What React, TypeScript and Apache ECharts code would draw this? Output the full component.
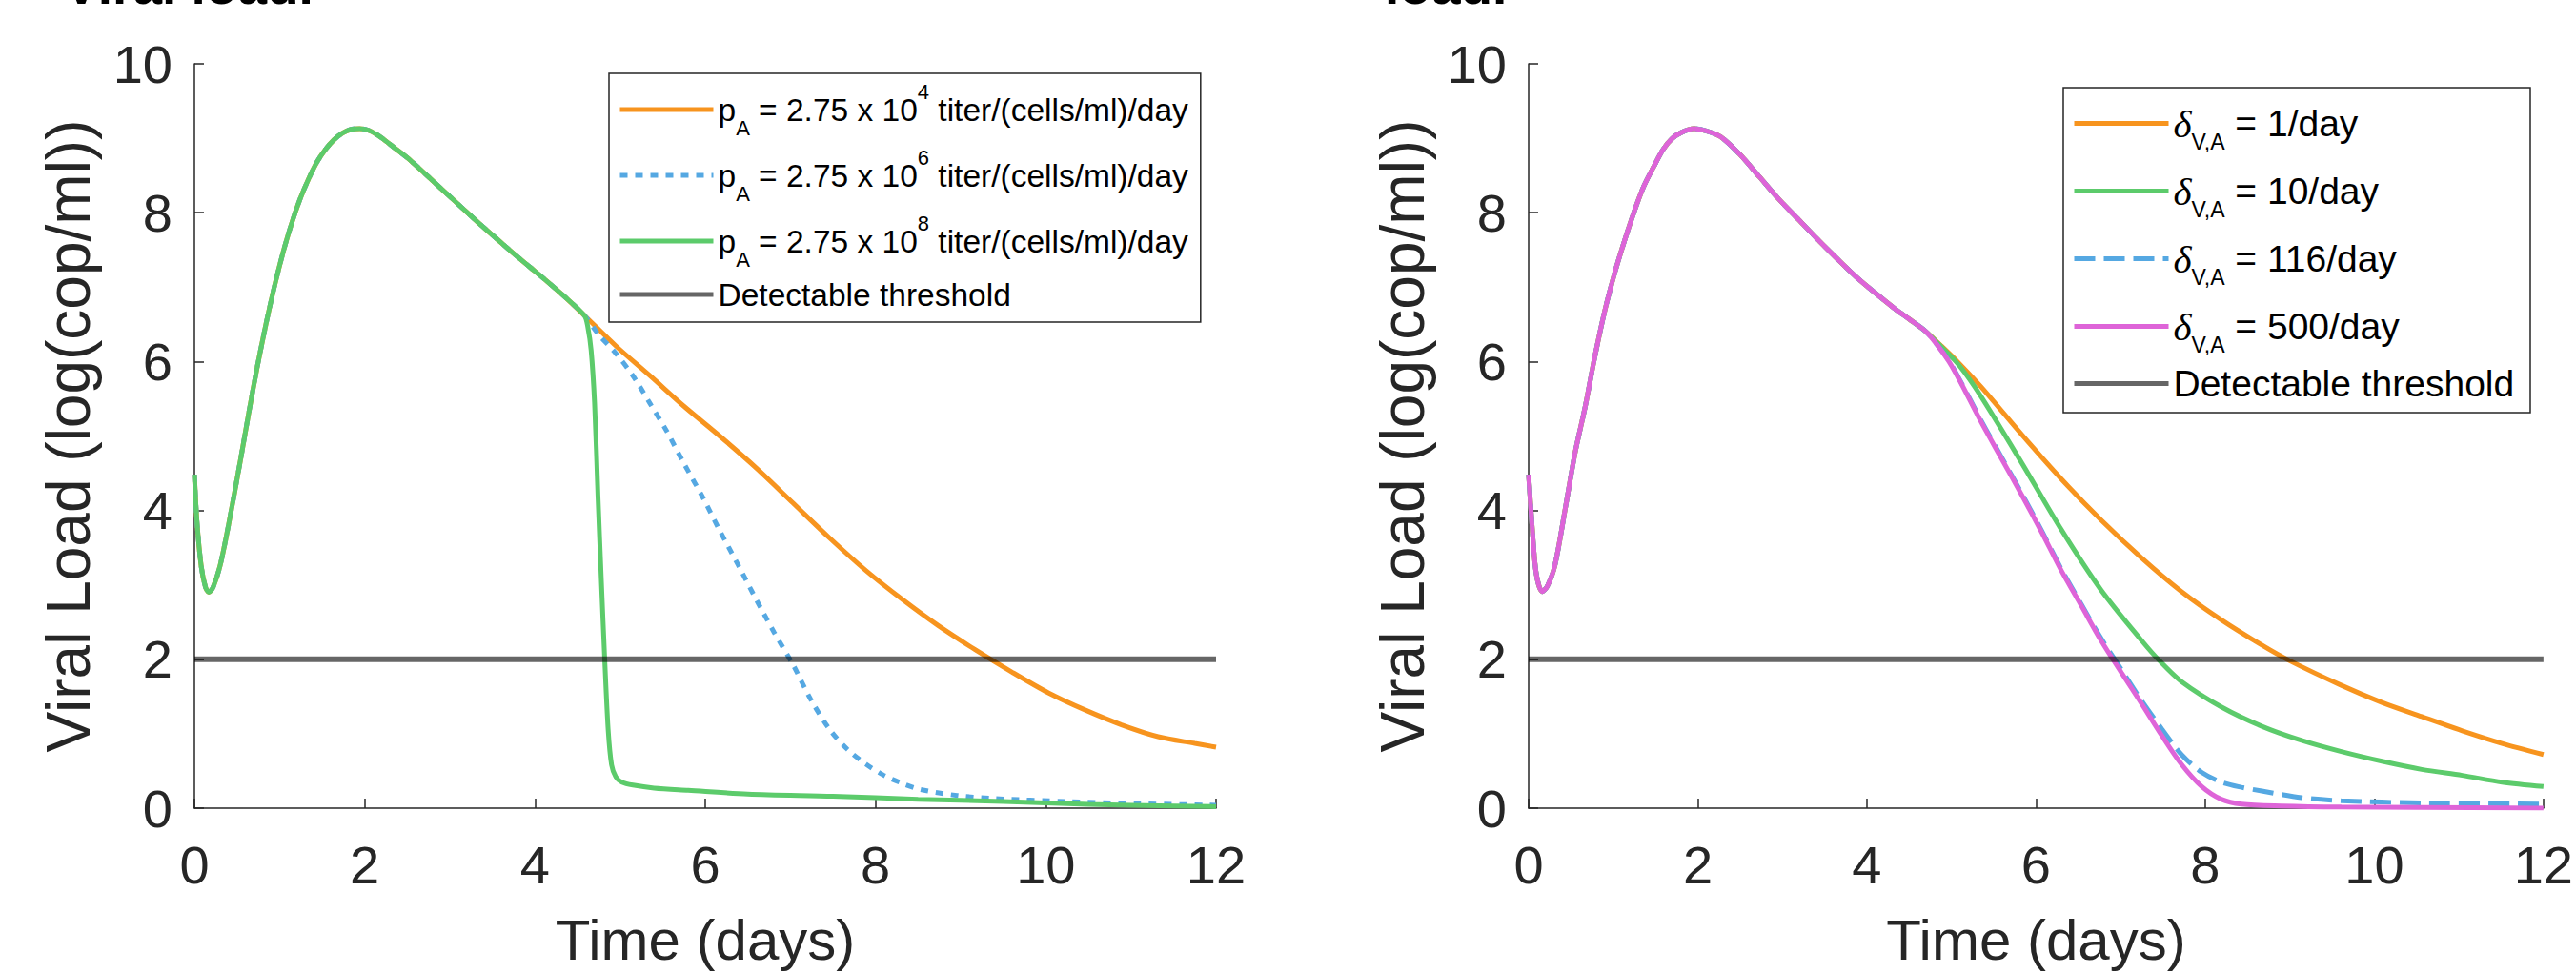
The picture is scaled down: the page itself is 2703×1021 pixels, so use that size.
import React, { useEffect, useRef } from 'react';
import * as echarts from 'echarts';

const FONT = "'Liberation Sans', Arial, Helvetica, sans-serif";
const SERIF = "'Liberation Serif', 'DejaVu Serif', serif";

// ---------- Left panel: shared early phase ----------
const leftBaseT = [0, 0.03, 0.08, 0.13, 0.17, 0.22, 0.30, 0.40, 0.54, 0.64, 0.74, 0.84, 0.94, 1.04, 1.14, 1.24, 1.34, 1.44, 1.54, 1.64, 1.74, 1.84, 1.94, 2.04, 2.14, 2.24, 2.34, 2.54, 2.74, 2.94, 3.14, 3.34, 3.54, 3.74, 3.94, 4.14, 4.34, 4.58];
const leftBaseV = [4.48, 3.85, 3.25, 2.97, 2.90, 2.97, 3.25, 3.80, 4.67, 5.32, 5.94, 6.50, 7.01, 7.46, 7.85, 8.18, 8.45, 8.68, 8.85, 8.98, 9.07, 9.12, 9.13, 9.11, 9.05, 8.97, 8.88, 8.70, 8.49, 8.28, 8.07, 7.86, 7.66, 7.46, 7.27, 7.08, 6.88, 6.62];

// pA = 2.75e4
const leftOrangeT = [4.58, 4.95, 5.35, 5.75, 6.17, 6.60, 7.03, 7.46, 7.89, 8.32, 8.74, 9.17, 9.60, 10.03, 10.46, 10.89, 11.32, 11.75, 12];
const leftOrangeV = [6.62, 6.21, 5.81, 5.40, 5.00, 4.57, 4.10, 3.63, 3.19, 2.80, 2.45, 2.13, 1.83, 1.55, 1.32, 1.12, 0.96, 0.87, 0.82];
// pA = 2.75e6
const leftBlueT = [4.58, 4.75, 4.95, 5.15, 5.35, 5.55, 5.75, 5.96, 6.17, 6.39, 6.60, 6.81, 7.03, 7.24, 7.46, 7.67, 7.89, 8.10, 8.32, 8.53, 8.96, 9.39, 10.24, 11.10, 12];
const leftBlueV = [6.62, 6.36, 6.11, 5.81, 5.44, 5.06, 4.63, 4.20, 3.73, 3.26, 2.80, 2.36, 1.93, 1.46, 1.06, 0.79, 0.59, 0.44, 0.33, 0.25, 0.17, 0.13, 0.09, 0.06, 0.04];
// pA = 2.75e8
const leftGreenT = [4.58, 4.62, 4.66, 4.70, 4.74, 4.78, 4.82, 4.86, 4.90, 4.95, 5.02, 5.15, 5.40, 5.80, 6.50, 7.50, 8.50, 9.50, 10.50, 11.50, 12];
const leftGreenV = [6.62, 6.47, 6.15, 5.45, 4.20, 3.05, 1.98, 1.05, 0.58, 0.42, 0.35, 0.31, 0.27, 0.24, 0.19, 0.16, 0.12, 0.09, 0.05, 0.03, 0.02];

// ---------- Right panel: shared early phase ----------
const rightBaseT = [0, 0.04, 0.09, 0.16, 0.22, 0.31, 0.44, 0.55, 0.67, 0.78, 0.90, 1.02, 1.13, 1.25, 1.36, 1.48, 1.59, 1.70, 1.81, 1.95, 2.10, 2.27, 2.50, 2.73, 2.96, 3.19, 3.41, 3.64, 3.87, 4.10, 4.33, 4.50, 4.69];
const rightBaseV = [4.48, 3.80, 3.15, 2.91, 2.98, 3.26, 4.07, 4.78, 5.40, 6.05, 6.68, 7.20, 7.61, 8.02, 8.35, 8.62, 8.85, 9.00, 9.08, 9.13, 9.10, 9.02, 8.78, 8.48, 8.18, 7.91, 7.65, 7.39, 7.14, 6.92, 6.71, 6.57, 6.41];

// delta = 1/day
const rightOrangeT = [4.69, 4.88, 5.07, 5.35, 5.83, 6.30, 6.77, 7.25, 7.72, 8.19, 8.67, 9.00, 9.61, 10.09, 10.56, 11.04, 11.51, 12];
const rightOrangeV = [6.41, 6.21, 6.00, 5.66, 5.02, 4.42, 3.87, 3.36, 2.91, 2.53, 2.19, 1.98, 1.65, 1.42, 1.23, 1.04, 0.87, 0.72];
// delta = 10/day
const rightGreenT = [4.69, 4.88, 5.09, 5.35, 5.83, 6.30, 6.77, 7.25, 7.46, 7.72, 8.19, 8.67, 9.14, 9.61, 10.09, 10.56, 11.04, 11.51, 12];
const rightGreenV = [6.41, 6.20, 5.95, 5.53, 4.64, 3.74, 2.93, 2.25, 1.98, 1.70, 1.36, 1.10, 0.91, 0.76, 0.63, 0.52, 0.44, 0.35, 0.29];
// delta = 116/day
const rightBlueT = [4.69, 4.82, 4.97, 5.10, 5.35, 5.59, 5.83, 6.07, 6.30, 6.54, 6.77, 7.01, 7.25, 7.49, 7.72, 7.96, 8.19, 8.43, 8.67, 9.14, 9.61, 10.56, 12];
const rightBlueV = [6.41, 6.24, 6.01, 5.75, 5.21, 4.72, 4.23, 3.72, 3.21, 2.73, 2.28, 1.86, 1.44, 1.06, 0.72, 0.48, 0.35, 0.28, 0.23, 0.14, 0.10, 0.07, 0.055];
// delta = 500/day
const rightMagentaT = [4.69, 4.82, 4.97, 5.10, 5.35, 5.59, 5.83, 6.07, 6.30, 6.54, 6.77, 7.01, 7.25, 7.49, 7.72, 7.96, 8.19, 8.43, 8.90, 9.61, 10.50, 12];
const rightMagentaV = [6.41, 6.24, 6.00, 5.74, 5.19, 4.70, 4.21, 3.70, 3.19, 2.71, 2.25, 1.82, 1.40, 0.97, 0.59, 0.29, 0.12, 0.055, 0.03, 0.015, 0.01, 0.0];

// Detectable threshold
const thresholdT = [0, 12];
const thresholdV = [2, 2];

// Axis ticks
const xMin = 0, xMax = 12, xStep = 2;
const yMin = 0, yMax = 10, yStep = 2;

// Names
const NAME_P4 = 'pA = 2.75 x 10^4 titer/(cells/ml)/day';
const NAME_P6 = 'pA = 2.75 x 10^6 titer/(cells/ml)/day';
const NAME_P8 = 'pA = 2.75 x 10^8 titer/(cells/ml)/day';
const NAME_D1 = 'δV,A = 1/day';
const NAME_D10 = 'δV,A = 10/day';
const NAME_D116 = 'δV,A = 116/day';
const NAME_D500 = 'δV,A = 500/day';
const NAME_TH = 'Detectable threshold';

const leftLabels: Record<string, string> = {
  [NAME_P4]: '{b|p}{sub|A}{b| = 2.75 x 10}{sup|4}{b| titer/(cells/ml)/day}',
  [NAME_P6]: '{b|p}{sub|A}{b| = 2.75 x 10}{sup|6}{b| titer/(cells/ml)/day}',
  [NAME_P8]: '{b|p}{sub|A}{b| = 2.75 x 10}{sup|8}{b| titer/(cells/ml)/day}',
  [NAME_TH]: '{t|Detectable threshold}',
};
const rightLabels: Record<string, string> = {
  [NAME_D1]: '{d|δ}{sub|V,A}{b| = 1/day}',
  [NAME_D10]: '{d|δ}{sub|V,A}{b| = 10/day}',
  [NAME_D116]: '{d|δ}{sub|V,A}{b| = 116/day}',
  [NAME_D500]: '{d|δ}{sub|V,A}{b| = 500/day}',
  [NAME_TH]: '{t|Detectable threshold}',
};

const C_ORANGE = '#F7941E';
const C_BLUE = '#55A8E2';
const C_GREEN = '#5CCB6B';
const C_MAGENTA = '#DE64D8';
const C_GRAY = 'rgba(0,0,0,0.6)';
const AX = '#262626';

const zip = (t: number[], v: number[]) => t.map((x, i) => [x, v[i]]);
const join = (bt: number[], bv: number[], t: number[], v: number[]) =>
  zip([...bt, ...t.slice(1)], [...bv, ...v.slice(1)]);

function lineSeries(name: string, idx: number, data: number[][], color: string, type: any, width = 5, z = 2) {
  return {
    type: 'line',
    name,
    xAxisIndex: idx,
    yAxisIndex: idx,
    data,
    symbol: 'none',
    smooth: 0.3,
    z,
    lineStyle: { color, width, type, cap: 'butt' },
    itemStyle: { color },
    emphasis: { disabled: true },
  };
}

function xAxis(idx: number) {
  return {
    type: 'value',
    gridIndex: idx,
    min: xMin,
    max: xMax,
    interval: xStep,
    axisLine: { show: true, onZero: false, lineStyle: { color: AX, width: 1.5 } },
    axisTick: { show: true, inside: true, length: 10, lineStyle: { color: AX, width: 1.5 } },
    axisLabel: { fontSize: 56, color: AX, fontFamily: FONT, margin: 31 },
    splitLine: { show: false },
    name: 'Time (days)',
    nameLocation: 'middle',
    nameGap: 108,
    nameTextStyle: { fontSize: 60, color: AX, fontFamily: FONT },
  };
}

function yAxis(idx: number) {
  return {
    type: 'value',
    gridIndex: idx,
    min: yMin,
    max: yMax,
    interval: yStep,
    axisLine: { show: true, onZero: false, lineStyle: { color: AX, width: 1.5 } },
    axisTick: { show: true, inside: true, length: 10, lineStyle: { color: AX, width: 1.5 } },
    axisLabel: { fontSize: 56, color: AX, fontFamily: FONT, margin: 23 },
    splitLine: { show: false },
    name: 'Viral Load (log(cop/ml))',
    nameLocation: 'middle',
    nameRotate: 90,
    nameGap: 100,
    nameTextStyle: { fontSize: 64, color: AX, fontFamily: FONT },
  };
}

const rightRich = {
  d: { fontSize: 41, lineHeight: 62, fontFamily: SERIF, fontStyle: 'italic', color: '#000' },
  sub: { fontSize: 23, lineHeight: 23, verticalAlign: 'bottom', fontFamily: FONT, color: '#000' },
  b: { fontSize: 39, lineHeight: 62, fontFamily: FONT, color: '#000' },
  t: { fontSize: 39, fontFamily: FONT, color: '#000' },
};

export default function App() {
  const ref = useRef<HTMLDivElement>(null);
  useEffect(() => {
    document.body.style.margin = '0';
    const chart = echarts.init(ref.current!, null, { renderer: 'svg', width: 2703, height: 1021 });
    const option: any = {
      animation: false,
      backgroundColor: '#ffffff',
      textStyle: { fontFamily: FONT },
      grid: [
        { left: 204, top: 67, width: 1072, height: 782 },
        { left: 1604, top: 67, width: 1072, height: 782 },
      ],
      xAxis: [xAxis(0), xAxis(1)],
      yAxis: [yAxis(0), yAxis(1)],
      legend: [
        {
          orient: 'vertical',
          left: 639,
          top: 77,
          padding: [8, 13, 12, 9],
          itemGap: 9,
          itemWidth: 98,
          itemHeight: 1,
          selectedMode: false,
          borderColor: AX,
          borderWidth: 1.5,
          backgroundColor: '#ffffff',
          lineStyle: { width: 5 },
          data: [NAME_P4, NAME_P6, NAME_P8, NAME_TH],
          formatter: (n: string) => leftLabels[n] || n,
          textStyle: {
            color: '#000',
            fontFamily: FONT,
            fontSize: 33.5,
            rich: {
              b: { fontSize: 33.5, lineHeight: 60, fontFamily: FONT, color: '#000' },
              sub: { fontSize: 22, lineHeight: 22, verticalAlign: 'bottom', fontFamily: FONT, color: '#000' },
              sup: { fontSize: 22, lineHeight: 38, verticalAlign: 'top', fontFamily: FONT, color: '#000' },
              t: { fontSize: 33.5, lineHeight: 29, fontFamily: FONT, color: '#000' },
            },
          },
        },
        {
          orient: 'vertical',
          left: 2165,
          top: 92,
          padding: [17, 15, 0, 9],
          itemGap: 19.5,
          itemWidth: 99,
          itemHeight: 1,
          selectedMode: false,
          borderWidth: 0,
          backgroundColor: 'transparent',
          lineStyle: { width: 5 },
          data: [NAME_D1, NAME_D10, NAME_D116, NAME_D500],
          formatter: (n: string) => rightLabels[n] || n,
          textStyle: { color: '#000', fontFamily: FONT, fontSize: 39, rich: rightRich },
        },
        {
          orient: 'vertical',
          left: 2165,
          top: 383,
          padding: [0, 15, 0, 9],
          itemWidth: 99,
          itemHeight: 1,
          selectedMode: false,
          borderWidth: 0,
          backgroundColor: 'transparent',
          lineStyle: { width: 5 },
          data: [NAME_TH],
          formatter: (n: string) => rightLabels[n] || n,
          textStyle: { color: '#000', fontFamily: FONT, fontSize: 39, rich: rightRich },
        },
      ],
      graphic: [
        { type: 'rect', z: 3.5, shape: { x: 2165, y: 92, width: 490, height: 341 }, style: { fill: '#ffffff', stroke: AX, lineWidth: 1.5 } },
        { type: 'text', x: 67, y: -15, style: { text: 'Viral load.', fontSize: 55, fontWeight: 'bold', fontFamily: FONT, fill: '#000', align: 'left', verticalAlign: 'middle' } },
        { type: 'text', x: 1453, y: -15, style: { text: 'load.', fontSize: 55, fontWeight: 'bold', fontFamily: FONT, fill: '#000', align: 'left', verticalAlign: 'middle' } },
      ],
      series: [
        lineSeries(NAME_P4, 0, join(leftBaseT, leftBaseV, leftOrangeT, leftOrangeV), C_ORANGE, 'solid'),
        lineSeries(NAME_P6, 0, join(leftBaseT, leftBaseV, leftBlueT, leftBlueV), C_BLUE, [8, 8]),
        lineSeries(NAME_P8, 0, join(leftBaseT, leftBaseV, leftGreenT, leftGreenV), C_GREEN, 'solid'),
        lineSeries(NAME_TH, 0, zip(thresholdT, thresholdV), C_GRAY, 'solid', 6, 3),
        lineSeries(NAME_D1, 1, join(rightBaseT, rightBaseV, rightOrangeT, rightOrangeV), C_ORANGE, 'solid'),
        lineSeries(NAME_D10, 1, join(rightBaseT, rightBaseV, rightGreenT, rightGreenV), C_GREEN, 'solid'),
        lineSeries(NAME_D116, 1, join(rightBaseT, rightBaseV, rightBlueT, rightBlueV), C_BLUE, [22, 9]),
        lineSeries(NAME_D500, 1, join(rightBaseT, rightBaseV, rightMagentaT, rightMagentaV), C_MAGENTA, 'solid'),
        lineSeries(NAME_TH, 1, zip(thresholdT, thresholdV), C_GRAY, 'solid', 6, 3),
      ],
    };
    chart.setOption(option);
    return () => chart.dispose();
  }, []);
  return (
    <div
      ref={ref}
      style={{ position: 'fixed', left: 0, top: 0, width: 2703, height: 1021, background: '#fff' }}
    />
  );
}
